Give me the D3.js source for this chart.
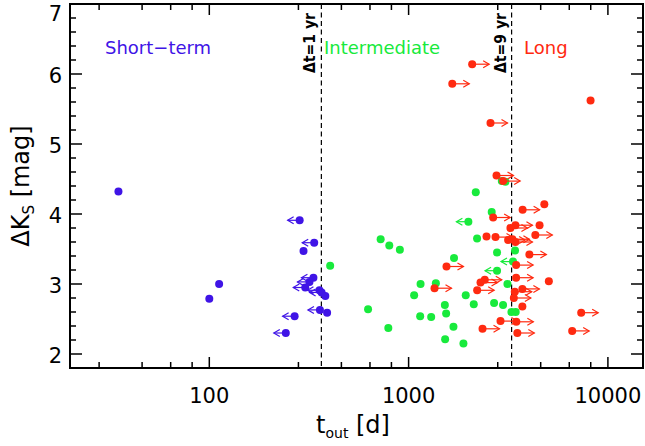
<!DOCTYPE html>
<meta charset="utf-8">
<style>
  body { margin: 0; background: #fff; }
  text { font-family: "DejaVu Sans", sans-serif; }
</style>
<body>
<script src="https://cdn.jsdelivr.net/npm/d3@7/dist/d3.min.js"></script>
<script>
// short-term group (1 = upper limit, arrow to the left)
var shortT = [35, 100, 112, 284, 336, 297, 333, 318, 303, 357, 366, 382, 359, 390, 268, 242];
var shortK = [4.32, 2.79, 3.00, 3.91, 3.59, 3.47, 3.09, 3.03, 2.95, 2.91, 2.88, 2.83, 2.63, 2.59, 2.54, 2.30];
var shortLim = [0, 0, 0, 1, 1, 0, 1, 1, 1, 1, 1, 0, 1, 0, 1, 1];

// intermediate group (1 = upper limit, arrow to the left)
var interT = [404, 626, 724, 800, 791, 904, 1066, 1148, 1143, 1298, 1370, 1520, 1543, 1525, 1679, 1690, 1884,
  1935, 2123, 1995, 2173, 2206, 2612, 2685, 2778, 2778, 2978, 3133, 3281, 3446, 3340, 3420, 2935, 3060];
var interK = [3.26, 2.64, 3.64, 3.55, 2.37, 3.49, 2.84, 3.00, 2.54, 2.53, 3.01, 2.70, 2.58, 2.21, 2.39, 3.37, 2.15,
  2.84, 2.71, 3.89, 4.31, 3.65, 4.03, 2.73, 3.45, 3.19, 2.70, 3.00, 2.60, 2.60, 3.32, 3.48, 4.47, 4.46];
var interLim = [0, 0, 0, 0, 0, 0, 0, 0, 0, 0, 0, 0, 0, 0, 0, 0, 0,
  0, 0, 1, 0, 0, 0, 0, 0, 1, 0, 0, 0, 0, 1, 0, 0, 0];

// long group (1 = lower limit, arrow to the right)
var longT = [2084, 1656, 8185, 2576, 2761, 2981, 4797, 3733, 2656, 4540, 3436, 3243, 4324, 2460, 2729, 3157, 3318,
  3436, 4036, 1549, 3463, 3463, 5054, 2411, 2295, 1349, 2208, 3722, 3410, 3373, 3722, 2891, 3472, 2349, 3512,
  7344, 6618];
var longK = [6.14, 5.86, 5.62, 5.30, 4.55, 4.47, 4.14, 4.06, 3.95, 3.84, 3.84, 3.80, 3.70, 3.68, 3.67, 3.63, 3.64,
  3.60, 3.42, 3.25, 3.27, 3.09, 3.04, 3.06, 3.02, 2.94, 2.91, 2.93, 2.89, 2.80, 2.68, 2.47, 2.46, 2.36, 2.30,
  2.59, 2.33];
var longLim = [1, 1, 0, 1, 1, 1, 0, 1, 1, 0, 1, 1, 1, 0, 1, 1, 1,
  1, 1, 1, 1, 1, 0, 1, 1, 1, 1, 1, 1, 1, 0, 1, 1, 1, 1,
  1, 1];

var xTicks = [100, 1000, 10000];
var xMinor = [28, 46, 64, 82, 280, 460, 640, 820, 2800, 4600, 6400, 8200];
var yTicks = [2, 3, 4, 5, 6, 7];
var cutLines = [365, 3287];
var cutLabels = ["\u0394t=1 yr", "\u0394t=9 yr"];

var blue = "#3f14e6", green = "#18ea3c", red = "#ff2a10";

var svg = d3.select("body").append("svg")
  .attr("width", 645)
  .attr("height", 446);

var x = d3.scaleLog().domain([20, 15000]).range([70, 643]);
var y = d3.scaleLinear().domain([1.8, 7]).range([368, 4]);

var yMinor = d3.range(1.8, 7.001, 0.2).filter(function (v) {
  return Math.abs(v - Math.round(v)) > 0.01;
});

var x0 = x.range()[0], x1 = x.range()[1], y0 = y.range()[0], y1 = y.range()[1];

// dashed cut lines
svg.selectAll(".cut")
  .data(cutLines)
  .enter().append("line")
  .attr("x1", function (d) { return x(d); })
  .attr("x2", function (d) { return x(d); })
  .attr("y1", y1)
  .attr("y2", y0)
  .attr("stroke", "#000")
  .attr("stroke-width", 1.2)
  .attr("stroke-dasharray", "5,3.5");

svg.selectAll(".cutlab")
  .data(cutLines)
  .enter().append("text")
  .attr("transform", function (d) { return "translate(" + (x(d) - 6) + ",13) rotate(-90)"; })
  .style("text-anchor", "end")
  .style("font-size", "15px")
  .style("font-weight", "bold")
  .attr("textLength", 60)
  .attr("lengthAdjust", "spacingAndGlyphs")
  .text(function (d, i) { return cutLabels[i]; });

// points with limit arrows
function group(T, K, L, color, dir, len) {
  var data = T.map(function (t, i) { return { t: t, k: K[i], lim: L[i] }; });
  var g = svg.append("g");
  var arr = data.filter(function (d) { return d.lim; });
  g.selectAll(".shaft").data(arr).enter().append("line")
    .attr("x1", function (d) { return x(d.t); })
    .attr("x2", function (d) { return x(d.t) + dir * len; })
    .attr("y1", function (d) { return y(d.k); })
    .attr("y2", function (d) { return y(d.k); })
    .attr("stroke", color).attr("stroke-width", 1.2);
  g.selectAll(".head").data(arr).enter().append("path")
    .attr("d", function (d) {
      var tx = x(d.t) + dir * len, ty = y(d.k);
      return "M" + (tx - dir * 6) + "," + (ty - 3.5) + "L" + tx + "," + ty + "L" + (tx - dir * 6) + "," + (ty + 3.5);
    })
    .attr("fill", "none").attr("stroke", color).attr("stroke-width", 1.2);
  g.selectAll("circle").data(data).enter().append("circle")
    .attr("cx", function (d) { return x(d.t); })
    .attr("cy", function (d) { return y(d.k); })
    .attr("r", 4)
    .attr("fill", color);
}
group(shortT, shortK, shortLim, blue, -1, 12);
group(interT, interK, interLim, green, -1, 12);
group(longT, longK, longLim, red, 1, 17);

// frame
svg.append("rect")
  .attr("x", x0).attr("y", y1)
  .attr("width", x1 - x0).attr("height", y0 - y1)
  .attr("fill", "none").attr("stroke", "#000").attr("stroke-width", 2);

// ticks on all four sides
function ticks(vals, len, horiz) {
  vals.forEach(function (v) {
    if (horiz) {
      svg.append("line").attr("x1", x(v)).attr("x2", x(v)).attr("y1", y0).attr("y2", y0 - len)
        .attr("stroke", "#000").attr("stroke-width", 1.5);
      svg.append("line").attr("x1", x(v)).attr("x2", x(v)).attr("y1", y1).attr("y2", y1 + len)
        .attr("stroke", "#000").attr("stroke-width", 1.5);
    } else {
      svg.append("line").attr("x1", x0).attr("x2", x0 + len).attr("y1", y(v)).attr("y2", y(v))
        .attr("stroke", "#000").attr("stroke-width", 1.5);
      svg.append("line").attr("x1", x1).attr("x2", x1 - len).attr("y1", y(v)).attr("y2", y(v))
        .attr("stroke", "#000").attr("stroke-width", 1.5);
    }
  });
}
ticks(xTicks, 11, true);
ticks(xMinor, 6, true);
ticks(yTicks, 12, false);
ticks(yMinor, 6, false);

// tick labels
svg.selectAll(".xl").data(xTicks).enter().append("text")
  .attr("x", function (d) { return x(d); })
  .attr("y", 403)
  .style("text-anchor", "middle")
  .style("font-size", "21px")
  .text(function (d) { return d; });

svg.selectAll(".yl").data(yTicks).enter().append("text")
  .attr("x", 62)
  .attr("y", function (d) { return Math.max(y(d), 12) + 9; })
  .style("text-anchor", "end")
  .style("font-size", "21px")
  .text(function (d) { return d; });

// axis titles
var xt = svg.append("text")
  .attr("x", 353).attr("y", 433)
  .style("text-anchor", "middle")
  .style("font-size", "24px");
xt.append("tspan").text("t");
xt.append("tspan").attr("dy", 5).style("font-size", "14px").text("out");
xt.append("tspan").attr("dy", -5).text(" [d]");

var yt = svg.append("text")
  .attr("transform", "translate(29,186) rotate(-90)")
  .style("text-anchor", "middle")
  .style("font-size", "24px");
yt.append("tspan").text("\u0394K");
yt.append("tspan").attr("dy", 5).style("font-size", "15px").text("S");
yt.append("tspan").attr("dy", -5).text(" [mag]");

// group names
svg.append("text").attr("x", 105).attr("y", 54).style("font-size", "18px").attr("fill", blue).text("Short\u2212term");
svg.append("text").attr("x", 324).attr("y", 54).style("font-size", "18px").attr("fill", green).text("Intermediate");
svg.append("text").attr("x", 524).attr("y", 54).style("font-size", "18px").attr("fill", red).text("Long");
</script>
</body>
